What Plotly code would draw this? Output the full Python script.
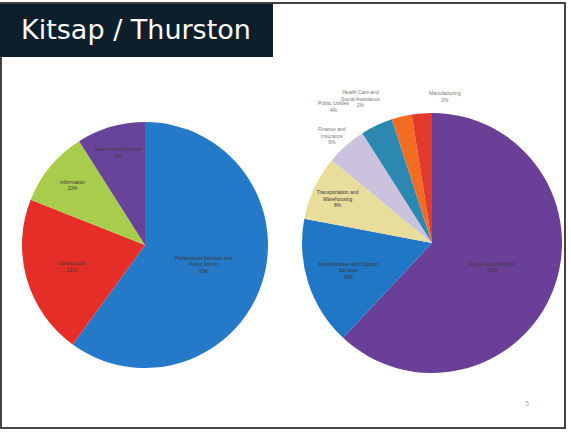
import plotly.graph_objects as go

# Kitsap pie
kitsap_labels = ["Professional Services and<br>Public Admin", "Construction", "Information", "Government Services"]
kitsap_values = [60, 21, 10, 9]
kitsap_colors = ["#2479c8", "#e52e27", "#a8cc4c", "#67449a"]

# Thurston pie
thurston_labels = ["Public Administration", "Administrative and Support<br>Services", "Transportation and<br>Warehousing",
                   "Finance and<br>Insurance", "Public Utilities", "Health Care and<br>Social Assistance", "Manufacturing"]
thurston_values = [62, 16, 8, 5, 4, 2.5, 2.5]
thurston_pct = ["62%", "16%", "8%", "5%", "4%", "2%", "2%"]
thurston_colors = ["#6a3f97", "#1f77c6", "#e9dd9c", "#cbc2de", "#2b89b1", "#f26d22", "#e33a2e"]
thurston_inside = [True, True, True, False, False, False, False]

fig = go.Figure()
fig.add_trace(go.Pie(
    labels=kitsap_labels, values=kitsap_values, sort=False, direction="clockwise", rotation=0,
    marker=dict(colors=kitsap_colors, line=dict(width=0)),
    textinfo="label+percent", textposition="inside", insidetextorientation="horizontal",
    textfont=dict(size=5, color="#3a3a3a", family="Liberation Sans"),
    domain=dict(x=[22/571, 268/571], y=[1-368/432, 1-122/432]),
    showlegend=False, hoverinfo="label+percent"))

texts = [(l + "<br>" + p) if ins else "" for l, p, ins in zip(thurston_labels, thurston_pct, thurston_inside)]
fig.add_trace(go.Pie(
    labels=thurston_labels, values=thurston_values, sort=False, direction="clockwise", rotation=0,
    marker=dict(colors=thurston_colors, line=dict(width=0)),
    text=texts, textinfo="text", textposition="inside", insidetextorientation="horizontal",
    textfont=dict(size=5, color="#3a3a3a", family="Liberation Sans"),
    domain=dict(x=[302/571, 562/571], y=[1-373/432, 1-113/432]),
    showlegend=False, hoverinfo="label+percent"))

# outside labels for the small slices
out_pos = {"Finance and<br>Insurance": (332, 135), "Public Utilities": (334, 107),
           "Health Care and<br>Social Assistance": (382, 99), "Manufacturing": (463, 96)}
for l, p, ins in zip(thurston_labels, thurston_pct, thurston_inside):
    if not ins:
        x, y = out_pos[l]
        fig.add_annotation(x=x/571, y=1-y/432, xref="paper", yref="paper", text=l + "<br>" + p,
                           showarrow=False, font=dict(size=5, color="#777", family="Liberation Sans"),
                           align="center", yanchor="middle")

# slide border
fig.add_shape(type="rect", xref="paper", yref="paper", x0=1/571, x1=565/571, y0=1-428/432, y1=1-3/432,
              line=dict(width=2, color="#444444"), fillcolor="rgba(0,0,0,0)")
# title bar
fig.add_shape(type="rect", xref="paper", yref="paper", x0=0, x1=273/571, y0=1-57/432, y1=1-4/432,
              fillcolor="#0e1f2c", line=dict(width=0))
fig.add_annotation(x=19/571, y=1-30/432, xref="paper", yref="paper", text="Kitsap / Thurston",
                   showarrow=False, xanchor="left", yanchor="middle",
                   font=dict(size=27, color="white", family="DejaVu Sans"))
fig.add_annotation(x=531/571, y=1-410/432, xref="paper", yref="paper", text="5", showarrow=False,
                   font=dict(size=7, color="#999"))

fig.update_layout(width=571, height=432, margin=dict(l=0, r=0, t=0, b=0),
                  paper_bgcolor="white", plot_bgcolor="white")
fig.write_html("out.html", config={"displayModeBar": False},
               post_script="document.body.style.margin='0';document.body.style.overflow='hidden';")
